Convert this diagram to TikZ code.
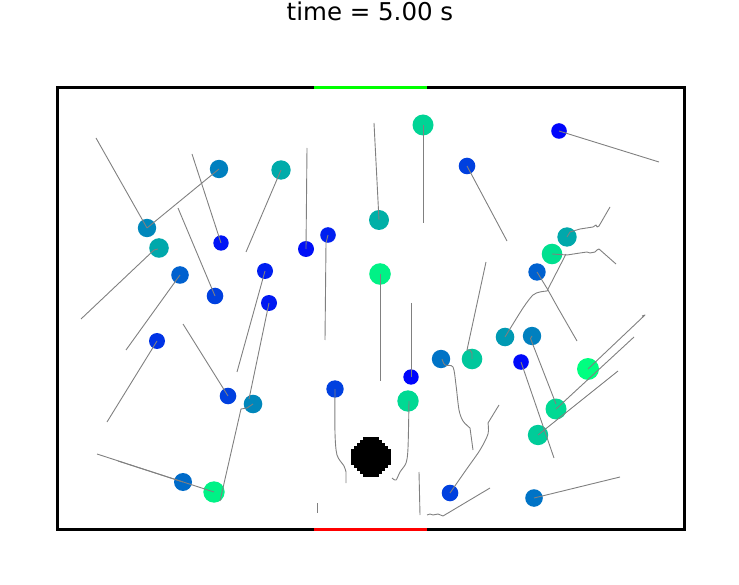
\documentclass[tikz,border=0pt]{standalone}
\usepackage{fontspec}
\setmainfont{DejaVu Sans}
\usetikzlibrary{calc}
\newcommand\mkball[5]{%
  \pgfmathsetmacro\bblue{1-0.5*#5}%
  \definecolor{balltmp}{rgb}{0,#5,\bblue}%
  \fill[balltmp] (#2,#3) circle[radius=#4];
  \coordinate (#1) at (#2,#3);}
\tikzset{
  trail/.style={draw=black!50, line width=0.9pt, line join=round},
  frameline/.style={line width=3pt},
}
\begin{document}
\begin{tikzpicture}[x=1pt,y=-1pt]
\useasboundingbox (0,0) rectangle (739,585);
\node[anchor=base, font=\fontsize{24.5}{28}\selectfont] (title) at (370,21) {time = 5.00 s};
% frame
\draw[frameline] (57,88) rectangle (684,529);
\coordinate (g1) at (314,88); \coordinate (g2) at (427,88);
\coordinate (r1) at (314,529); \coordinate (r2) at (427,529);
\draw[frameline, draw={rgb,255:red,0;green,255;blue,0}] (g1) -- (g2);
\draw[frameline, draw={rgb,255:red,255;green,0;blue,0}] (r1) -- (r2);
% obstacle (pixelated disc)
\coordinate (obst) at (371,457);
\foreach \i in {-6,...,6}{
  \foreach \j in {-6,...,6}{
    \pgfmathtruncatemacro\inside{(\i*\i+\j*\j)<=40 ? 1 : 0}
    \ifnum\inside=1
      \fill[black] ($(obst)+(3*\i-1.55,3*\j-1.55)$) rectangle ++(3.1,3.1);
    \fi
  }
}
% balls
\mkball{c1}{147}{228}{9.2}{0.53}
\mkball{c2}{159}{248}{9.8}{0.66}
\mkball{c3}{219}{169}{9.2}{0.50}
\mkball{c4}{281}{170}{9.7}{0.67}
\mkball{c5}{221}{243}{7.7}{0.08}
\mkball{c6}{180}{275}{8.8}{0.38}
\mkball{c7}{215}{296}{8.3}{0.25}
\mkball{c8}{265}{271}{8.0}{0.12}
\mkball{c9}{269}{303}{8.0}{0.10}
\mkball{c10}{306}{249}{8.0}{0.06}
\mkball{c11}{328}{235}{7.8}{0.12}
\mkball{c12}{379}{220}{10.0}{0.69}
\mkball{c13}{423}{125}{10.5}{0.83}
\mkball{c14}{467}{166}{8.3}{0.25}
\mkball{c15}{559}{131}{7.8}{0.02}
\mkball{c16}{567}{237}{9.7}{0.66}
\mkball{c17}{552}{254}{10.3}{0.88}
\mkball{c18}{537}{272}{8.7}{0.38}
\mkball{c19}{380}{274}{10.8}{0.95}
\mkball{c20}{157}{341}{8.0}{0.20}
\mkball{c21}{228}{396}{8.3}{0.25}
\mkball{c22}{253}{404}{9.3}{0.53}
\mkball{c23}{183}{482}{9.0}{0.42}
\mkball{c24}{214}{492}{10.7}{0.95}
\mkball{c25}{335}{389}{8.7}{0.25}
\mkball{c26}{411}{377}{7.7}{0.02}
\mkball{c27}{408}{401}{10.7}{0.85}
\mkball{c28}{441}{359}{9.2}{0.45}
\mkball{c29}{472}{359}{10.3}{0.78}
\mkball{c30}{505}{337}{9.3}{0.60}
\mkball{c31}{532}{336}{9.2}{0.50}
\mkball{c32}{521}{362}{7.8}{0.04}
\mkball{c33}{588}{369}{11.0}{1.00}
\mkball{c34}{556}{409}{10.5}{0.85}
\mkball{c35}{538}{435}{10.2}{0.80}
\mkball{c36}{450}{493}{8.3}{0.25}
\mkball{c37}{534}{498}{8.8}{0.45}
% trails
\draw[trail] (96,138) -- (c1);
\draw[trail] (c1) -- (c3);
\draw[trail] (192,154) -- (c5);
\draw[trail] (246,252) -- (c4);
\draw[trail] (81,319) -- (154,250) -- (158,249);
\draw[trail] (126,350) -- (c6);
\draw[trail] (178,208) -- (c7);
\draw[trail] (237,372) -- (c8);
\draw[trail] (249,399) -- (c9);
\draw[trail] (c22) -- (247,408) -- (241,409) -- (220,501);
\draw[trail] (307,148) -- (c10);
\draw[trail] (c11) -- (326,243) -- (325,340);
\draw[trail] (374,123) -- (c12);
\draw[trail] (c13) -- (423,223);
\draw[trail] (c14) -- (507,241);
\draw[trail] (c15) -- (659,162);
\draw[trail] (c16) -- (570,232) -- (580,229) -- (593,227) -- (596,225) -- (597,227) -- (599,226) -- (610,207);
\draw[trail] (c17) -- (567,255) -- (580,253) -- (587,252) -- (590,253) -- (595,252) -- (597,250) -- (599,249) -- (616,264);
\draw[trail] (c18) -- (548,290) -- (558,308) -- (577,341);
\draw[trail] plot[smooth] coordinates {(505,337) (523,308) (533,295) (540,292) (547,291)} -- (566,254);
\draw[trail] (c19) -- (380,381);
\draw[trail] (c20) -- (107,422);
\draw[trail] (183,324) -- (c21);
\draw[trail] (97,454) -- (c24);
\draw[trail] (118,461) -- (c23);
\draw[trail] plot[smooth] coordinates {(335,389) (335,433) (337,455) (344,466) (346,472)} -- (346,483);
\draw[trail] (411,303) -- (c26);
\draw[trail] plot[smooth] coordinates {(409,401) (408,448) (406,463) (400,472) (396,480) (392,478)};
\draw[trail] (419,472) -- (420,515);
\draw[trail] (317,503) -- (317,513);
\draw[trail] plot[smooth] coordinates {(442,359) (445,365) (453,367) (456,385) (459,410) (463,421) (470,428)} -- (473,450);
\draw[trail] (486,262) -- (467,350) -- (470,350) -- (472,353) -- (c29);
\draw[trail] plot[smooth] coordinates {(450,493) (466,470) (480,450) (488,434) (488,423)} -- (499,405);
\draw[trail] (427,515) -- (430,514) -- (433,515) -- (438,514) -- (443,516) -- (490,488);
\draw[trail] (c31) -- (530.5,338.5) -- (556,404);
\draw[trail] (c32) -- (554,458);
\draw[trail] (c33) -- (645,315) -- (642,316);
\draw[trail] (c34) -- (634,337);
\draw[trail] (c35) -- (618,371);
\draw[trail] (c37) -- (620,477);
\end{tikzpicture}
\end{document}
